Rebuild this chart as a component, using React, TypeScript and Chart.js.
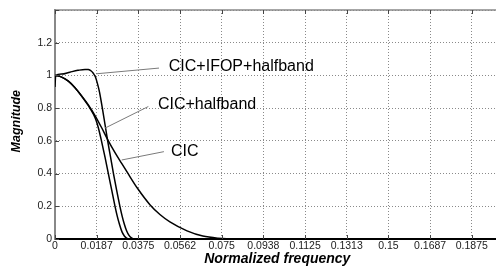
import { useEffect, useRef } from "react";
import { Chart, registerables } from "chart.js";

Chart.register(...registerables);

// ---- axis ticks ----
const xTickValues = [0, 0.01875, 0.0375, 0.05625, 0.075, 0.09375, 0.1125, 0.13125, 0.15, 0.16875, 0.1875];
const xTickLabels = ["0", "0.0187", "0.0375", "0.0562", "0.075", "0.0938", "0.1125", "0.1313", "0.15", "0.1687", "0.1875"];
const yTickValues = [0, 0.2, 0.4, 0.6, 0.8, 1, 1.2, 1.4];
const yTickLabels = ["0", "0.2", "0.4", "0.6", "0.8", "1", "1.2", ""];
const xMin = 0;
const xMax = 0.1984;
const yMin = 0;
const yMax = 1.4;

const xTitle = "Normalized frequency";
const yTitle = "Magnitude";

// ---- series: CIC ----
const cicFreq = [0, 0.003, 0.006, 0.009, 0.012, 0.015, 0.018, 0.021, 0.024, 0.027, 0.03, 0.0324, 0.0371, 0.0427, 0.0472, 0.0517, 0.0594, 0.0665, 0.0733, 0.0809, 0.2];
const cicMag = [1, 0.99, 0.965, 0.925, 0.875, 0.82, 0.755, 0.68, 0.6, 0.528, 0.462, 0.41, 0.31, 0.21, 0.15, 0.105, 0.05, 0.018, 0.005, 0, 0];

// ---- series: CIC+halfband ----
const hbFreq = [0, 0.003, 0.006, 0.009, 0.012, 0.015, 0.0174, 0.0185, 0.0195, 0.0209, 0.0225, 0.024, 0.0255, 0.027, 0.028, 0.029, 0.0301, 0.0312, 0.0322, 0.0333, 0.2];
const hbMag = [1, 0.99, 0.965, 0.925, 0.873, 0.815, 0.76, 0.725, 0.68, 0.6, 0.5, 0.4, 0.3, 0.2, 0.14, 0.09, 0.045, 0.018, 0.005, 0, 0];

// ---- series: CIC+IFOP+halfband ----
const ifopFreq = [0, 0.0003, 0.003, 0.0067, 0.0103, 0.0135, 0.015, 0.0163, 0.0173, 0.0182, 0.0191, 0.02, 0.0213, 0.0225, 0.0237, 0.025, 0.0263, 0.0277, 0.0292, 0.0302, 0.0312, 0.0322, 0.0333, 0.0344, 0.0355, 0.2];
const ifopMag = [0.93, 1.0, 1.008, 1.02, 1.031, 1.037, 1.036, 1.027, 1.012, 0.99, 0.95, 0.9, 0.8, 0.7, 0.6, 0.5, 0.4, 0.3, 0.2, 0.14, 0.09, 0.05, 0.022, 0.007, 0, 0];

// ---- annotations ----
const labelTexts = ["CIC+IFOP+halfband", "CIC+halfband", "CIC"];
const labelFreq = [0.0512, 0.0463, 0.0522];
const labelMag = [1.053, 0.819, 0.537];
const pointerFromFreq = [0.0468, 0.042, 0.049];
const pointerFromMag = [1.045, 0.81, 0.534];
const pointerToFreq = [0.0186, 0.0225, 0.03];
const pointerToMag = [1.01, 0.678, 0.483];

const FONT = '"Liberation Sans", Arial, Helvetica, sans-serif';

export default function App() {
  const ref = useRef<HTMLCanvasElement>(null);

  useEffect(() => {
    document.body.style.margin = "0";
    const canvas = ref.current;
    if (!canvas) return;
    const mk = (f: number[], m: number[]) => f.map((x, i) => ({ x, y: m[i] }));
    const lineStyle = {
      showLine: true,
      pointRadius: 0,
      borderColor: "#000",
      borderWidth: 1.5,
      cubicInterpolationMode: "monotone" as const,
      fill: false,
    };

    const overlay = {
      id: "overlay",
      afterDraw(chart: any) {
        const { ctx, chartArea: a, scales } = chart;
        const xs = scales.x;
        const ys = scales.y;
        ctx.save();
        // top border
        ctx.strokeStyle = "#888";
        ctx.lineWidth = 1.5;
        ctx.beginPath();
        ctx.moveTo(a.left, a.top);
        ctx.lineTo(a.right, a.top);
        ctx.stroke();
        // inward ticks
        ctx.strokeStyle = "#444";
        ctx.lineWidth = 1;
        ctx.beginPath();
        yTickValues.forEach((v) => {
          const py = Math.round(ys.getPixelForValue(v)) + 0.5;
          ctx.moveTo(a.left, py);
          ctx.lineTo(a.left + 4, py);
        });
        xTickValues.forEach((v) => {
          const px = Math.round(xs.getPixelForValue(v)) + 0.5;
          ctx.moveTo(px, a.bottom);
          ctx.lineTo(px, a.bottom - 4);
          ctx.moveTo(px, a.top);
          ctx.lineTo(px, a.top + 4);
        });
        ctx.stroke();
        // pointer lines
        ctx.strokeStyle = "#7a7a7a";
        ctx.lineWidth = 1;
        ctx.beginPath();
        labelTexts.forEach((_, i) => {
          ctx.moveTo(xs.getPixelForValue(pointerFromFreq[i]), ys.getPixelForValue(pointerFromMag[i]));
          ctx.lineTo(xs.getPixelForValue(pointerToFreq[i]), ys.getPixelForValue(pointerToMag[i]));
        });
        ctx.stroke();
        // labels
        ctx.fillStyle = "#000";
        ctx.font = `16px ${FONT}`;
        ctx.textAlign = "left";
        ctx.textBaseline = "middle";
        labelTexts.forEach((t, i) => {
          ctx.fillText(t, xs.getPixelForValue(labelFreq[i]), ys.getPixelForValue(labelMag[i]));
        });
        // axis titles
        ctx.font = `italic bold 14px ${FONT}`;
        ctx.textAlign = "center";
        ctx.fillText(xTitle, xs.getPixelForValue((xMin + 0.2) / 2), a.bottom + 20);
        ctx.save();
        ctx.translate(a.left - 38, ys.getPixelForValue(0.72));
        ctx.rotate(-Math.PI / 2);
        ctx.font = `italic bold 12.5px ${FONT}`;
        ctx.fillText(yTitle, 0, 0);
        ctx.restore();
        ctx.restore();
      },
    };

    const chart = new Chart(canvas, {
      type: "scatter",
      data: {
        datasets: [
          { label: "CIC", data: mk(cicFreq, cicMag), ...lineStyle },
          { label: "CIC+halfband", data: mk(hbFreq, hbMag), ...lineStyle },
          { label: "CIC+IFOP+halfband", data: mk(ifopFreq, ifopMag), ...lineStyle },
        ],
      },
      options: {
        animation: false,
        responsive: false,
        maintainAspectRatio: false,
        layout: { padding: { top: 10, left: 0, right: 0, bottom: 0 } },
        plugins: { legend: { display: false }, tooltip: { enabled: false } },
        scales: {
          x: {
            type: "linear",
            min: xMin,
            max: xMax,
            afterFit: (s: any) => {
              s.height = 28;
            },
            afterBuildTicks: (s: any) => {
              s.ticks = xTickValues.map((v) => ({ value: v }));
            },
            ticks: {
              callback: (_v: any, i: number) => xTickLabels[i],
              font: { family: FONT, size: 10.5 },
              color: "#222",
              padding: 1,
              maxRotation: 0,
              autoSkip: false,
            },
            grid: { color: "#8a8a8a", drawTicks: false, lineWidth: 1 },
            border: { color: "#000", width: 2, dash: [1, 2] },
          },
          y: {
            type: "linear",
            min: yMin,
            max: yMax,
            afterFit: (s: any) => {
              s.width = 55;
            },
            afterBuildTicks: (s: any) => {
              s.ticks = yTickValues.map((v) => ({ value: v }));
            },
            ticks: {
              callback: (_v: any, i: number) => yTickLabels[i],
              font: { family: FONT, size: 10.5 },
              color: "#222",
              padding: 3,
              autoSkip: false,
            },
            grid: { color: "#8a8a8a", drawTicks: false, lineWidth: 1 },
            border: { color: "#888", width: 2, dash: [1, 2] },
          },
        },
      },
      plugins: [overlay],
    });
    return () => chart.destroy();
  }, []);

  return <canvas ref={ref} width={496} height={267} style={{ display: "block" }} />;
}
